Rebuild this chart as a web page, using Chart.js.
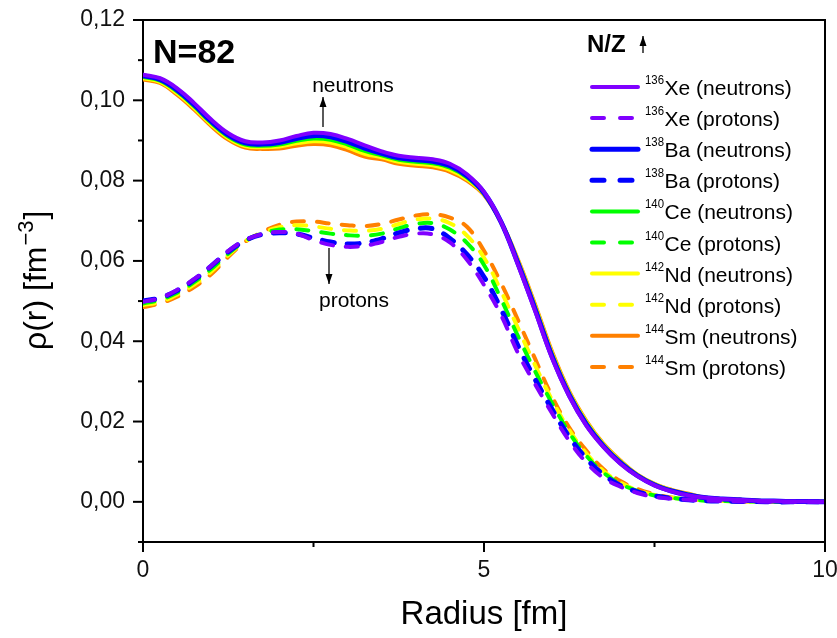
<!DOCTYPE html>
<html><head><meta charset="utf-8">
<style>html,body{margin:0;padding:0;background:#fff}canvas{display:block}</style>
<script src="https://cdn.jsdelivr.net/npm/chart.js@4"></script>
</head><body>
<canvas id="c" width="837" height="638"></canvas>
<script>
// ---- data ----
const radius = [0,0.25,0.5,0.75,1,1.25,1.5,1.75,2,2.25,2.5,2.75,3,3.25,3.5,3.75,4,4.25,4.5,4.75,5,5.25,5.5,5.75,6,6.25,6.5,6.75,7,7.25,7.5,7.75,8,8.25,8.5,8.75,9,9.25,9.5,9.75,10];
const massNumbers = ['136','138','140','142','144'];
const elements = ['Xe','Ba','Ce','Nd','Sm'];
const xTickLabels = ['0','5','10'];

const xeNeutrons = [0.1064,0.1055,0.1030,0.0993,0.0952,0.0918,0.0898,0.0895,0.0900,0.0911,0.0919,0.0916,0.0904,0.0888,0.0873,0.0862,0.0857,0.0853,0.0842,0.0816,0.0772,0.0697,0.0590,0.0475,0.0357,0.0263,0.0190,0.0137,0.0095,0.0064,0.0041,0.0026,0.0016,0.0010,0.0007,0.0005,0.0003,0.0002,0.0001,0.0001,0.0000];
const baNeutrons = [0.1061,0.1052,0.1026,0.0989,0.0948,0.0914,0.0894,0.0891,0.0895,0.0905,0.0912,0.0909,0.0897,0.0881,0.0868,0.0857,0.0852,0.0848,0.0837,0.0812,0.0770,0.0697,0.0593,0.0479,0.0361,0.0266,0.0193,0.0139,0.0097,0.0065,0.0042,0.0027,0.0017,0.0010,0.0007,0.0005,0.0003,0.0002,0.0001,0.0001,0.0000];
const ceNeutrons = [0.1058,0.1049,0.1022,0.0985,0.0944,0.0910,0.0890,0.0887,0.0890,0.0899,0.0905,0.0902,0.0890,0.0874,0.0863,0.0852,0.0847,0.0843,0.0832,0.0808,0.0768,0.0697,0.0596,0.0483,0.0365,0.0269,0.0196,0.0141,0.0099,0.0066,0.0043,0.0028,0.0018,0.0010,0.0007,0.0005,0.0003,0.0002,0.0001,0.0001,0.0000];
const ndNeutrons = [0.1055,0.1046,0.1018,0.0981,0.0940,0.0906,0.0886,0.0883,0.0885,0.0893,0.0898,0.0895,0.0883,0.0867,0.0858,0.0847,0.0842,0.0838,0.0827,0.0804,0.0766,0.0697,0.0599,0.0487,0.0369,0.0272,0.0199,0.0143,0.0101,0.0067,0.0044,0.0029,0.0019,0.0010,0.0007,0.0005,0.0003,0.0002,0.0001,0.0001,0.0000];
const smNeutrons = [0.1052,0.1043,0.1014,0.0977,0.0936,0.0902,0.0882,0.0879,0.0880,0.0887,0.0891,0.0888,0.0876,0.0860,0.0853,0.0842,0.0837,0.0833,0.0822,0.0800,0.0764,0.0697,0.0602,0.0491,0.0373,0.0275,0.0202,0.0145,0.0103,0.0068,0.0045,0.0030,0.0020,0.0010,0.0007,0.0005,0.0003,0.0002,0.0001,0.0001,0.0000];

const xeProtons = [0.0498,0.0508,0.0528,0.0555,0.0588,0.0625,0.0652,0.0667,0.0672,0.0668,0.0652,0.0640,0.0635,0.0638,0.0647,0.0660,0.0668,0.0666,0.0646,0.0603,0.0540,0.0465,0.0370,0.0293,0.0220,0.0152,0.0098,0.0060,0.0038,0.0022,0.0012,0.0008,0.0005,0.0003,0.0002,0.0001,0.0001,0.0000,0.0000,0.0000,0.0000];
const baProtons = [0.0500,0.0508,0.0526,0.0553,0.0587,0.0623,0.0651,0.0666,0.0670,0.0667,0.0657,0.0647,0.0642,0.0645,0.0655,0.0670,0.0680,0.0680,0.0656,0.0616,0.0560,0.0480,0.0388,0.0305,0.0230,0.0162,0.0108,0.0068,0.0041,0.0025,0.0015,0.0009,0.0005,0.0003,0.0002,0.0001,0.0001,0.0000,0.0000,0.0000,0.0000];
const ceProtons = [0.0494,0.0503,0.0521,0.0547,0.0580,0.0618,0.0650,0.0668,0.0678,0.0679,0.0674,0.0668,0.0664,0.0663,0.0668,0.0681,0.0692,0.0694,0.0678,0.0645,0.0590,0.0505,0.0412,0.0325,0.0245,0.0172,0.0115,0.0073,0.0045,0.0027,0.0016,0.0010,0.0006,0.0003,0.0002,0.0001,0.0001,0.0000,0.0000,0.0000,0.0000];
const ndProtons = [0.0490,0.0498,0.0516,0.0541,0.0573,0.0614,0.0649,0.0670,0.0684,0.0689,0.0686,0.0680,0.0676,0.0675,0.0680,0.0692,0.0703,0.0705,0.0694,0.0663,0.0608,0.0525,0.0432,0.0340,0.0253,0.0179,0.0121,0.0077,0.0048,0.0029,0.0017,0.0010,0.0006,0.0004,0.0002,0.0001,0.0001,0.0000,0.0000,0.0000,0.0000];
const smProtons = [0.0485,0.0494,0.0511,0.0535,0.0567,0.0610,0.0648,0.0672,0.0690,0.0698,0.0698,0.0693,0.0689,0.0687,0.0692,0.0703,0.0713,0.0716,0.0708,0.0685,0.0625,0.0545,0.0452,0.0356,0.0262,0.0185,0.0128,0.0082,0.0052,0.0032,0.0019,0.0011,0.0007,0.0004,0.0002,0.0001,0.0001,0.0000,0.0000,0.0000,0.0000];

const colors = ['#8000ff','#0000ff','#00ff00','#ffff00','#ff8000'];
const widths = [4,5,4,4,4];
const neutronSeries = [xeNeutrons,baNeutrons,ceNeutrons,ndNeutrons,smNeutrons];
const protonSeries = [xeProtons,baProtons,ceProtons,ndProtons,smProtons];

const FONT = "'Liberation Sans', Arial, Helvetica, sans-serif";

const datasets = [];
elements.forEach((el,i)=>{
  datasets.push({
    label: massNumbers[i]+el+' (neutrons)', sup: massNumbers[i], name: el+' (neutrons)',
    data: radius.map((r,k)=>({x:r,y:neutronSeries[i][k]})),
    borderColor: colors[i], borderWidth: widths[i], pointRadius:0, fill:false,
    tension:0.4, borderCapStyle:'round', borderJoinStyle:'round'
  });
  datasets.push({
    label: massNumbers[i]+el+' (protons)', sup: massNumbers[i], name: el+' (protons)', dashed:true,
    data: radius.map((r,k)=>({x:r,y:protonSeries[i][k]})),
    borderColor: colors[i], borderWidth: widths[i], pointRadius:0, fill:false,
    borderDash:[12,13], borderCapStyle:'round',
    tension:0.4
  });
});

function txt(ctx, s, x, y, font, align, squeeze){
  ctx.font = font; ctx.textAlign = align || 'left';
  const w = ctx.measureText(s).width;
  ctx.fillText(s, x, y, w*(squeeze||1));
  return w*(squeeze||1);
}
function arrow(ctx, x, y1, y2){
  ctx.beginPath(); ctx.moveTo(x,y1); ctx.lineTo(x,y2); ctx.lineWidth=1.3; ctx.stroke();
  const d = y2<y1 ? 1 : -1;
  ctx.beginPath(); ctx.moveTo(x,y2); ctx.lineTo(x-3.5,y2+d*10); ctx.lineTo(x+3.5,y2+d*10); ctx.closePath(); ctx.fill();
}

const decor = {
  id:'decor',
  afterDraw(chart){
    const {ctx, chartArea:a, scales:{x,y}} = chart;
    ctx.save();
    ctx.strokeStyle='#000'; ctx.fillStyle='#000'; ctx.lineWidth=2;
    ctx.beginPath(); ctx.moveTo(a.left-1,a.top); ctx.lineTo(a.right,a.top); ctx.lineTo(a.right,a.bottom+1); ctx.stroke();
    x.ticks.forEach(t=>{
      const px = x.getPixelForValue(t.value);
      const len = (Math.abs(t.value%5)<1e-6) ? 10 : 5;
      ctx.beginPath(); ctx.moveTo(px,a.bottom); ctx.lineTo(px,a.bottom+len); ctx.stroke();
    });
    y.ticks.forEach(t=>{
      const k = Math.round(t.value*100);
      const py = y.getPixelForValue(t.value);
      const len = (k%2===0) ? 10 : 5;
      ctx.beginPath(); ctx.moveTo(a.left-len,py); ctx.lineTo(a.left,py); ctx.stroke();
    });
    ctx.textBaseline='alphabetic';
    txt(ctx,'Radius [fm]', (a.left+a.right)/2, 624, '33px '+FONT, 'center', 1);
    ctx.save();
    ctx.translate(46, 350); ctx.rotate(-Math.PI/2);
    let w1 = txt(ctx,'ρ(r) [fm',0,0,'32px '+FONT,'left',1);
    let w2 = txt(ctx,'−3',w1+1,-13,'22px '+FONT,'left',1);
    txt(ctx,']',w1+w2+2,0,'32px '+FONT,'left',1);
    ctx.restore();
    txt(ctx,'N=82',153,63,'bold 34px '+FONT,'left',1);
    txt(ctx,'neutrons',353,92,'21px '+FONT,'center',1);
    arrow(ctx,323,127,97);
    txt(ctx,'protons',354,307,'21px '+FONT,'center',1);
    arrow(ctx,329,248,284);
    txt(ctx,'N/Z',587,52,'bold 24px '+FONT,'left',1);
    arrow(ctx,643,53,36);
    chart.data.datasets.forEach((ds,i)=>{
      const ly = 87 + i*31.1;
      ctx.save();
      ctx.strokeStyle = ds.borderColor; ctx.lineWidth = ds.borderWidth; ctx.lineCap='round';
      ctx.setLineDash(ds.dashed ? [12,16] : []);
      ctx.beginPath(); ctx.moveTo(592,ly); ctx.lineTo(ds.dashed?634:638,ly); ctx.stroke();
      ctx.restore();
      ctx.fillStyle='#000';
      const ws = txt(ctx, ds.sup, 645, ly-3, '12px '+FONT, 'left', 0.95);
      txt(ctx, ds.name, 645+ws+0.5, ly+8, '21px '+FONT, 'left', 1);
    });
    ctx.restore();
  }
};

new Chart(document.getElementById('c'), {
  type:'line',
  data:{datasets},
  options:{
    responsive:false, animation:false, devicePixelRatio:1,
    layout:{padding:{top:20,right:12,left:0,bottom:0}},
    plugins:{legend:{display:false}, tooltip:{enabled:false}},
    scales:{
      x:{type:'linear', min:0, max:10,
        afterFit(s){ s.height = 96; s.paddingLeft = 0; s.paddingRight = 0; },
        border:{display:true,color:'#000',width:2},
        grid:{drawOnChartArea:false, drawTicks:true, tickLength:10, tickColor:'rgba(0,0,0,0)'},
        ticks:{stepSize:2.5, autoSkip:false, maxRotation:0, padding:5, color:'#111',
          font:{family:FONT,size:23},
          callback(v){ const s=String(Math.round(v*100)/100); return xTickLabels.includes(s) ? s : ''; }}
      },
      y:{type:'linear', min:-0.01, max:0.12,
        afterFit(s){ s.width = 143; s.paddingTop = 0; s.paddingBottom = 0; },
        border:{display:true,color:'#000',width:2},
        grid:{drawOnChartArea:false, drawTicks:true, tickLength:10, tickColor:'rgba(0,0,0,0)'},
        ticks:{stepSize:0.01, autoSkip:false, padding:8, color:'#111',
          font:{family:FONT,size:23},
          callback(v){ const k=Math.round(v*100); return (k%2===0 && k>=0) ? (k/100).toFixed(2).replace('.',',') : ''; }}
      }
    }
  },
  plugins:[decor]
});
</script>
</body></html>
